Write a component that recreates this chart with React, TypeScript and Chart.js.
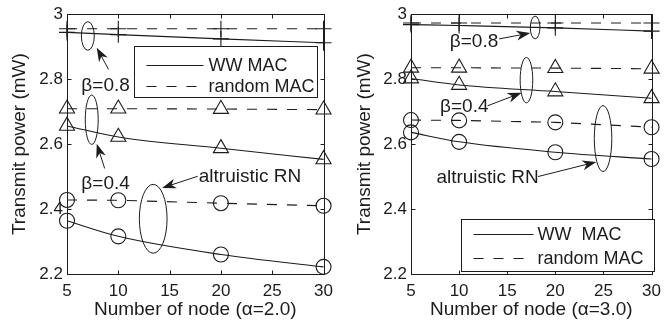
import React, { useEffect, useRef } from "react";
import { Chart, registerables } from "chart.js";

Chart.register(...registerables);

// ---- data ----
const nodeCounts = [5, 10, 20, 30];
const xTickValues = [5, 10, 15, 20, 25, 30];
const yTickValues = [2.2, 2.4, 2.6, 2.8, 3];

// alpha = 2.0
const a2WwBeta08 = [2.944, 2.937, 2.924, 2.912];
const a2RandomBeta08 = [2.955, 2.955, 2.955, 2.955];
const a2WwBeta04 = [2.656, 2.622, 2.587, 2.553];
const a2RandomBeta04 = [2.709, 2.709, 2.708, 2.706];
const a2WwAltruistic = [2.364, 2.316, 2.26, 2.222];
const a2RandomAltruistic = [2.428, 2.427, 2.418, 2.41];

// alpha = 3.0
const a3WwBeta08 = [2.968, 2.965, 2.958, 2.948];
const a3RandomBeta08 = [2.973, 2.973, 2.973, 2.973];
const a3WwBeta04 = [2.802, 2.782, 2.762, 2.741];
const a3RandomBeta04 = [2.835, 2.835, 2.834, 2.832];
const a3WwAltruistic = [2.636, 2.607, 2.575, 2.554];
const a3RandomAltruistic = [2.674, 2.673, 2.667, 2.652];

const legendLabelsA2 = ["WW MAC", "random MAC"];
const legendLabelsA3 = ["WW  MAC", "random MAC"];

// ---- styling ----
const INK = "#1c1c1c";
const FONT = '"Liberation Sans", Arial, Helvetica, sans-serif';
const DASH = [10, 10];
const LEGEND_DASH = [10, 10];

type Marker = "cross" | "triangle" | "circle";
type Series = { values: number[]; dashed: boolean; marker: Marker };

const markerRadius: Record<Marker, number> = { cross: 8, triangle: 8.7, circle: 7.5 };

type Ellipse = { x: number; y: number; rx: number; ry: number };
type Arrow = { from: [number, number]; to: [number, number] };
type Label = { text: string; x: number; y: number; align: CanvasTextAlign };

type Panel = {
  xTitle: string;
  series: Series[];
  canvasLeft: number;
  canvasWidth: number;
  padTop: number;
  padRight: number;
  yAxisWidth: number;
  yTitlePad: number;
  legend: {
    labels: string[];
    dx: number; // from chart-area left
    dy: number; // from chart-area top
    w: number;
    h: number;
    line0: number;
    line1: number;
    textX: number;
    rows: number[];
  };
  ellipses: Ellipse[];
  arrows: Arrow[];
  notes: Label[];
};

const panelA2: Panel = {
  xTitle: "Number of node (\u03B1=2.0)",
  series: [
    { values: a2RandomBeta08, dashed: true, marker: "cross" },
    { values: a2WwBeta08, dashed: false, marker: "cross" },
    { values: a2RandomBeta04, dashed: true, marker: "triangle" },
    { values: a2WwBeta04, dashed: false, marker: "triangle" },
    { values: a2RandomAltruistic, dashed: true, marker: "circle" },
    { values: a2WwAltruistic, dashed: false, marker: "circle" },
  ],
  canvasLeft: 0,
  canvasWidth: 340,
  padTop: 11,
  padRight: 14,
  yAxisWidth: 67,
  yTitlePad: 8.6,
  legend: {
    labels: legendLabelsA2,
    dx: 67, dy: 32, w: 183, h: 51,
    line0: 12, line1: 69, textX: 74, rows: [18, 39],
  },
  ellipses: [
    { x: 7.03, y: 2.933, rx: 0.63, ry: 0.044 },
    { x: 7.41, y: 2.675, rx: 0.63, ry: 0.076 },
    { x: 13.4, y: 2.37, rx: 1.35, ry: 0.106 },
  ],
  arrows: [
    { from: [9.05, 2.83], to: [7.9, 2.897] },
    { from: [8.67, 2.525], to: [7.9, 2.601] },
    { from: [17.74, 2.501], to: [14.27, 2.465] },
  ],
  notes: [
    { text: "\u03B2=0.8", x: 8.76, y: 2.784, align: "center" },
    { text: "\u03B2=0.4", x: 8.76, y: 2.48, align: "center" },
    { text: "altruistic RN", x: 17.84, y: 2.501, align: "left" },
  ],
};

const panelA3: Panel = {
  xTitle: "Number of node (\u03B1=3.0)",
  series: [
    { values: a3RandomBeta08, dashed: true, marker: "cross" },
    { values: a3WwBeta08, dashed: false, marker: "cross" },
    { values: a3RandomBeta04, dashed: true, marker: "triangle" },
    { values: a3WwBeta04, dashed: false, marker: "triangle" },
    { values: a3RandomAltruistic, dashed: true, marker: "circle" },
    { values: a3WwAltruistic, dashed: false, marker: "circle" },
  ],
  canvasLeft: 340,
  canvasWidth: 328,
  padTop: 10,
  padRight: 9,
  yAxisWidth: 71,
  yTitlePad: 13.6,
  legend: {
    labels: legendLabelsA3,
    dx: 50, dy: 205, w: 193, h: 52,
    line0: 12, line1: 72, textX: 76, rows: [14, 38],
  },
  ellipses: [
    { x: 17.9, y: 2.959, rx: 0.5, ry: 0.035 },
    { x: 17.0, y: 2.797, rx: 0.655, ry: 0.07 },
    { x: 24.96, y: 2.617, rx: 0.91, ry: 0.1015 },
  ],
  arrows: [
    { from: [14.17, 2.924], to: [17.4, 2.942] },
    { from: [12.96, 2.718], to: [16.49, 2.758] },
    { from: [18.2, 2.5], to: [24.25, 2.545] },
  ],
  notes: [
    { text: "\u03B2=0.8", x: 11.55, y: 2.918, align: "center" },
    { text: "\u03B2=0.4", x: 10.54, y: 2.718, align: "center" },
    { text: "altruistic RN", x: 12.96, y: 2.5, align: "center" },
  ],
};

// Box frame with inward ticks, in-axes legend and callouts.
const framePlugin = {
  id: "frame",
  afterDatasetsDraw(chart: any, _args: any, opts: any) {
    const panel: Panel = opts.panel;
    const { ctx, chartArea: a, scales } = chart;
    const xs = scales.x;
    const ys = scales.y;
    const px = (v: number) => xs.getPixelForValue(v);
    const py = (v: number) => ys.getPixelForValue(v);
    const L = Math.round(a.left) + 0.5;
    const R = Math.round(a.right) + 0.5;
    const T = Math.round(a.top) + 0.5;
    const B = Math.round(a.bottom) + 0.5;
    const tick = 4;

    ctx.save();
    ctx.strokeStyle = INK;
    ctx.lineWidth = 1;
    ctx.setLineDash([]);
    ctx.strokeRect(L, T, R - L, B - T);
    ctx.beginPath();
    for (const v of xTickValues) {
      const x = Math.round(px(v)) + 0.5;
      ctx.moveTo(x, B);
      ctx.lineTo(x, B - tick);
      ctx.moveTo(x, T);
      ctx.lineTo(x, T + tick);
    }
    for (const v of yTickValues) {
      const y = Math.round(py(v)) + 0.5;
      ctx.moveTo(L, y);
      ctx.lineTo(L + tick, y);
      ctx.moveTo(R, y);
      ctx.lineTo(R - tick, y);
    }
    ctx.stroke();

    // legend
    const lg = panel.legend;
    const bx = Math.round(a.left + lg.dx) + 0.5;
    const by = Math.round(a.top + lg.dy) + 0.5;
    ctx.fillStyle = "#ffffff";
    ctx.fillRect(bx, by, lg.w, lg.h);
    ctx.strokeRect(bx, by, lg.w, lg.h);
    ctx.font = `18px ${FONT}`;
    ctx.textBaseline = "middle";
    ctx.textAlign = "left";
    lg.labels.forEach((text, i) => {
      const y = Math.round(by + lg.rows[i]) + 0.5;
      ctx.setLineDash(i === 1 ? LEGEND_DASH : []);
      ctx.beginPath();
      ctx.moveTo(bx + lg.line0, y);
      ctx.lineTo(bx + lg.line1, y);
      ctx.stroke();
      ctx.fillStyle = INK;
      ctx.fillText(text, bx + lg.textX, y + 1);
    });
    ctx.setLineDash([]);

    // ellipses
    for (const e of panel.ellipses) {
      const cx = px(e.x);
      const cy = py(e.y);
      const rx = Math.abs(px(e.x + e.rx) - cx);
      const ry = Math.abs(py(e.y + e.ry) - cy);
      ctx.beginPath();
      ctx.ellipse(cx, cy, rx, ry, 0, 0, Math.PI * 2);
      ctx.stroke();
    }

    // arrows
    ctx.fillStyle = INK;
    for (const ar of panel.arrows) {
      const x0 = px(ar.from[0]);
      const y0 = py(ar.from[1]);
      const x1 = px(ar.to[0]);
      const y1 = py(ar.to[1]);
      const len = Math.hypot(x1 - x0, y1 - y0);
      const ux = (x1 - x0) / len;
      const uy = (y1 - y0) / len;
      const head = 14;
      const half = 5;
      ctx.beginPath();
      ctx.moveTo(x0, y0);
      ctx.lineTo(x1 - ux * head * 0.6, y1 - uy * head * 0.6);
      ctx.stroke();
      ctx.beginPath();
      ctx.moveTo(x1, y1);
      ctx.lineTo(x1 - ux * head - uy * half, y1 - uy * head + ux * half);
      ctx.lineTo(x1 - ux * head * 0.7, y1 - uy * head * 0.7);
      ctx.lineTo(x1 - ux * head + uy * half, y1 - uy * head - ux * half);
      ctx.closePath();
      ctx.fill();
    }

    // callout text
    ctx.font = `19px ${FONT}`;
    ctx.textBaseline = "middle";
    for (const n of panel.notes) {
      ctx.textAlign = n.align;
      ctx.fillText(n.text, px(n.x), py(n.y) + 1);
    }
    ctx.restore();
  },
};

function buildConfig(panel: Panel): any {
  return {
    type: "line",
    data: {
      datasets: panel.series.map((s) => ({
        data: nodeCounts.map((n, i) => ({ x: n, y: s.values[i] })),
        borderColor: INK,
        borderWidth: 1.1,
        borderDash: s.dashed ? DASH : [],
        cubicInterpolationMode: s.dashed ? "default" : "monotone",
        tension: 0,
        fill: false,
        clip: false,
        pointStyle: s.marker,
        pointRadius: markerRadius[s.marker],
        pointBorderColor: INK,
        pointBorderWidth: 1.1,
        pointBackgroundColor: "rgba(0,0,0,0)",
      })),
    },
    options: {
      animation: false,
      responsive: false,
      events: [],
      layout: { padding: { top: panel.padTop, right: panel.padRight, left: 0, bottom: 0 } },
      plugins: {
        legend: { display: false },
        tooltip: { enabled: false },
        frame: { panel },
      },
      scales: {
        x: {
          type: "linear",
          min: 5,
          max: 30,
          afterBuildTicks: (s: any) => {
            s.ticks = xTickValues.map((v) => ({ value: v }));
          },
          afterFit: (s: any) => {
            s.height = 54;
          },
          grid: { display: false, drawTicks: false },
          border: { display: false },
          ticks: {
            color: INK,
            font: { family: FONT, size: 17 },
            padding: 7,
            maxRotation: 0,
            autoSkip: false,
            callback: (v: number) => String(v),
          },
          title: {
            display: true,
            text: panel.xTitle,
            color: INK,
            font: { family: FONT, size: 19 },
            padding: { top: 0, bottom: 6.6 },
          },
        },
        y: {
          type: "linear",
          min: 2.2,
          max: 3,
          afterBuildTicks: (s: any) => {
            s.ticks = yTickValues.map((v) => ({ value: v }));
          },
          afterFit: (s: any) => {
            s.width = panel.yAxisWidth;
          },
          grid: { display: false, drawTicks: false },
          border: { display: false },
          ticks: {
            color: INK,
            font: { family: FONT, size: 17 },
            padding: 4,
            autoSkip: false,
            callback: (v: number) => String(Math.round(v * 10) / 10),
          },
          title: {
            display: true,
            text: "Transmit power (mW)",
            color: INK,
            font: { family: FONT, size: 19 },
            padding: { top: panel.yTitlePad, bottom: 0 },
          },
        },
      },
    },
    plugins: [framePlugin],
  };
}

function PanelChart({ panel }: { panel: Panel }) {
  const ref = useRef<HTMLCanvasElement>(null);
  useEffect(() => {
    const chart = new Chart(ref.current as HTMLCanvasElement, buildConfig(panel));
    return () => chart.destroy();
  }, [panel]);
  return (
    <canvas
      ref={ref}
      width={panel.canvasWidth}
      height={328}
      style={{
        position: "absolute",
        left: panel.canvasLeft,
        top: 0,
        width: panel.canvasWidth,
        height: 328,
        display: "block",
      }}
    />
  );
}

export default function App() {
  return (
    <div
      style={{
        position: "absolute",
        left: 0,
        top: 0,
        width: 668,
        height: 328,
        background: "#ffffff",
        overflow: "hidden",
      }}
    >
      <PanelChart panel={panelA2} />
      <PanelChart panel={panelA3} />
    </div>
  );
}
